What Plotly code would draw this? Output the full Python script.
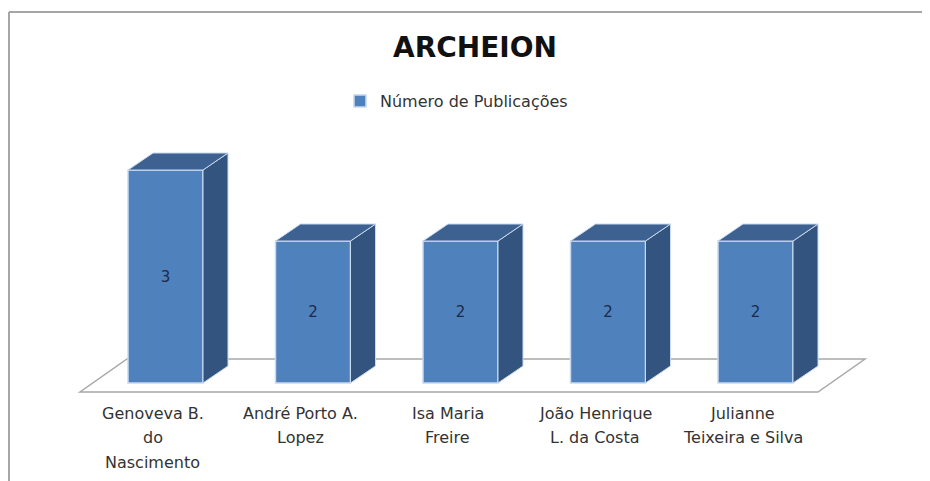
import plotly.graph_objects as go

# ---- data ----
categories = [
    ["Genoveva B.", "do", "Nascimento"],
    ["André Porto A.", "Lopez"],
    ["Isa Maria", "Freire"],
    ["João Henrique", "L. da Costa"],
    ["Julianne", "Teixeira e Silva"],
]
values = [3, 2, 2, 2, 2]
series_name = "Número de Publicações"
title_text = "ARCHEION"

# ---- layout constants (pixels) ----
W_FIG, H_FIG = 930, 481
OFF = 8  # page body margin: screen px = figure px + OFF


def fx(px):
    return px - OFF


def fy(py):
    return py - OFF


L, R, T, B = 52, 30, 92, 61
PW, PH = W_FIG - L - R, H_FIG - T - B
PX0, PXU = fx(165.5), 147.5     # pixel of first category, px per category
PY0, PYU = fy(383.0), 71.0      # pixel of zero line, px per unit
BAR_W = 75 / PXU
DX, DY = 25 / PXU, 17 / PYU     # bar depth offsets (data units)

FRONT = "#4f81bd"
SIDE = "#345480"
TOP = "#3d6190"
EDGE = "#c9d9ee"

xs = list(range(len(values)))
x_range = [(L - PX0) / PXU, (L + PW - PX0) / PXU]
y_range = [(PY0 - (T + PH)) / PYU, (PY0 - T) / PYU]

fig = go.Figure()

# side and top faces of each 3D bar, derived from the values
for i, v in zip(xs, values):
    xl, xr = i - BAR_W / 2, i + BAR_W / 2
    fig.add_trace(go.Scatter(
        x=[xr, xr + DX, xr + DX, xr, xr], y=[0, DY, v + DY, v, 0],
        fill="toself", fillcolor=SIDE, mode="lines",
        line=dict(color=EDGE, width=1), showlegend=False, hoverinfo="skip"))
    fig.add_trace(go.Scatter(
        x=[xl, xl + DX, xr + DX, xr, xl], y=[v, v + DY, v + DY, v, v],
        fill="toself", fillcolor=TOP, mode="lines",
        line=dict(color=EDGE, width=1), showlegend=False, hoverinfo="skip"))

# front faces
fig.add_trace(go.Bar(
    x=xs, y=values, width=BAR_W, name=series_name,
    marker=dict(color=FRONT, line=dict(color=EDGE, width=1.5)),
    text=values, textposition="inside", insidetextanchor="middle",
    textfont=dict(family="DejaVu Sans", size=15, color="#1c2a4a"),
    constraintext="none", showlegend=True))

# floor (below traces)
fx0, fx1 = (fx(80) - PX0) / PXU, (fx(818) - PX0) / PXU
fdx = 47 / PXU
fy0, fy1 = (PY0 - fy(392)) / PYU, (PY0 - fy(359)) / PYU
floor_path = (f"M {fx0},{fy0} L {fx1},{fy0} L {fx1 + fdx},{fy1} "
              f"L {fx0 + fdx},{fy1} Z")
shapes = [dict(type="path", path=floor_path, xref="x", yref="y",
               fillcolor="white", line=dict(color="#a8a8a8", width=1.5),
               layer="below")]


def px_to_paper_x(px):
    return (px - L) / PW


def px_to_paper_y(py):
    return (T + PH - py) / PH


# outer frame (left and top edges)
shapes.append(dict(type="line", xref="paper", yref="paper",
                   x0=px_to_paper_x(fx(9)), x1=px_to_paper_x(fx(9)),
                   y0=px_to_paper_y(fy(12)), y1=px_to_paper_y(H_FIG),
                   line=dict(color="#a6a6a6", width=2)))
shapes.append(dict(type="line", xref="paper", yref="paper",
                   x0=px_to_paper_x(fx(9)), x1=px_to_paper_x(W_FIG),
                   y0=px_to_paper_y(fy(12)), y1=px_to_paper_y(fy(12)),
                   line=dict(color="#a6a6a6", width=2)))

# category labels (multi-line, centred under floor front)
annotations = []
for i, lines in zip(xs, categories):
    for k, line in enumerate(lines):
        annotations.append(dict(
            x=i, y=px_to_paper_y(fy(413 + 24.5 * k)), xref="x", yref="paper",
            xshift=-13, text=line, showarrow=False,
            xanchor="center", yanchor="middle",
            font=dict(family="DejaVu Sans", size=16, color="#333333")))

fig.update_layout(
    width=W_FIG, height=H_FIG,
    margin=dict(l=L, r=R, t=T, b=B, pad=0),
    paper_bgcolor="white", plot_bgcolor="white",
    title=dict(text=f"<b>{title_text}</b>", x=fx(475) / W_FIG, xref="container",
               xanchor="center", y=1 - fy(47) / H_FIG, yref="container",
               yanchor="middle",
               font=dict(family="DejaVu Sans", size=28, color="#111111")),
    showlegend=True,
    legend=dict(orientation="h", x=px_to_paper_x(fx(340)), xanchor="left",
                y=px_to_paper_y(fy(101)), yanchor="middle",
                itemwidth=30, bgcolor="rgba(0,0,0,0)",
                font=dict(family="DejaVu Sans", size=16, color="#333333")),
    xaxis=dict(range=x_range, visible=False, fixedrange=True),
    yaxis=dict(range=y_range, visible=False, fixedrange=True),
    shapes=shapes, annotations=annotations,
    hovermode=False,
)

fig.write_html("out.html")
